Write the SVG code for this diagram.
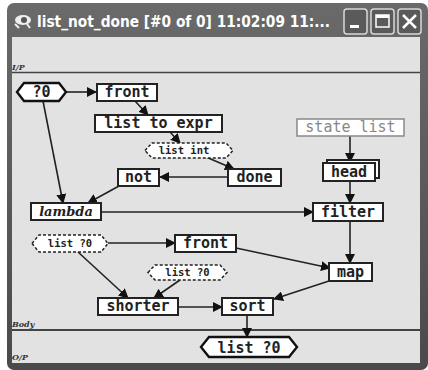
<svg xmlns="http://www.w3.org/2000/svg" width="428" height="370" viewBox="0 0 428 370">
<style>
.box{fill:#fff;stroke:#222;stroke-width:2}
.hex{fill:#fff;stroke:#111;stroke-width:2.4}
.dash{fill:#fff;stroke:#222;stroke-width:1.5;stroke-dasharray:3 2}
.t{font-family:"DejaVu Sans Mono","Liberation Mono",monospace;font-weight:bold;font-size:15px;fill:#222;text-anchor:middle}
.s{font-family:"DejaVu Sans Mono","Liberation Mono",monospace;font-weight:bold;font-size:10.5px;fill:#222;text-anchor:middle}
.lbl{font-family:"DejaVu Serif","Liberation Serif",serif;font-style:italic;font-weight:bold;font-size:8px;fill:#333}
.c{fill:none;stroke:#222;stroke-width:1.6;marker-end:url(#ah)}
.btn{fill:#5a5a5a;stroke:#d8d8d8;stroke-width:1.5}
</style>
<defs>
<marker id="ah" markerWidth="10" markerHeight="10" refX="9" refY="5" orient="auto" markerUnits="userSpaceOnUse">
<path d="M0,0 L10,5 L0,10 z" fill="#111"/>
</marker>
<linearGradient id="tb" x1="0" y1="0" x2="0" y2="1">
<stop offset="0" stop-color="#6a6a6a"/>
<stop offset="1" stop-color="#4a4a4a"/>
</linearGradient>
</defs>
<rect x="0" y="0" width="428" height="370" fill="#fff"/>
<g id="window">
<rect x="7" y="3" width="421" height="367" rx="7" fill="url(#tb)"/>
<rect x="12" y="37" width="408" height="326" fill="#e2e2e2"/>
<g id="icon">
<ellipse cx="23" cy="20" rx="8" ry="5" fill="#eee"/>
<ellipse cx="24" cy="20" rx="3" ry="3" fill="#555"/>
<path d="M15,24 L19,28 M27,24 L30,28" stroke="#eee" stroke-width="2"/>
</g>
<text x="37" y="27" font-family="DejaVu Sans,Liberation Sans,sans-serif" font-weight="bold" font-size="16" fill="#fff" textLength="293" lengthAdjust="spacingAndGlyphs">list_not_done [#0 of 0]  11:02:09 11:...</text>
<rect class="btn" x="344" y="9" width="23" height="25" rx="3"/>
<rect x="350" y="25" width="9" height="3" fill="#fff"/>
<rect class="btn" x="371" y="9" width="23" height="25" rx="3"/>
<rect x="376" y="15" width="13" height="12" fill="none" stroke="#fff" stroke-width="1.5"/>
<rect x="376" y="15" width="13" height="3" fill="#fff"/>
<rect class="btn" x="398" y="9" width="23" height="25" rx="3"/>
<path d="M403,15 L416,28 M416,15 L403,28" stroke="#fff" stroke-width="2.5"/>
<line x1="12" y1="72.5" x2="420" y2="72.5" stroke="#444" stroke-width="1.5"/>
<line x1="12" y1="330" x2="420" y2="330" stroke="#444" stroke-width="2"/>
<text class="lbl" x="12" y="70">I/P</text>
<text class="lbl" x="12" y="327">Body</text>
<text class="lbl" x="12" y="360">O/P</text>
</g>
<g id="connectors">
<line class="c" x1="66" y1="92" x2="96" y2="92"/>
<line class="c" x1="135" y1="101" x2="148" y2="115"/>
<line class="c" x1="170" y1="132" x2="180" y2="143"/>
<line class="c" x1="206" y1="157" x2="234" y2="169"/>
<line class="c" x1="228" y1="177" x2="160" y2="177"/>
<line class="c" x1="119" y1="186" x2="88" y2="203"/>
<line class="c" x1="43" y1="101" x2="63" y2="203"/>
<line class="c" x1="101" y1="212" x2="313" y2="212"/>
<line class="c" x1="350" y1="136" x2="350" y2="162"/>
<line class="c" x1="350" y1="181" x2="350" y2="203"/>
<line class="c" x1="350" y1="221" x2="350" y2="263"/>
<line class="c" x1="108" y1="243" x2="175" y2="243"/>
<line class="c" x1="236" y1="248" x2="330" y2="268"/>
<line class="c" x1="329" y1="281" x2="274" y2="299"/>
<line class="c" x1="78" y1="252" x2="128" y2="298"/>
<line class="c" x1="180" y1="280" x2="154" y2="298"/>
<line class="c" x1="178" y1="307" x2="222" y2="307"/>
<line class="c" x1="247" y1="316" x2="247" y2="337"/>
</g>
<g id="in-q0">
<polygon class="hex" points="17,92 24,83 59,83 66,92 59,101 24,101"/>
<text class="t" x="41.5" y="97">?0</text>
</g>
<g id="front1">
<rect class="box" x="97" y="84" width="60" height="17"/>
<text class="t" x="127" y="97">front</text>
</g>
<g id="list-to-expr">
<rect class="box" x="95" y="115" width="127" height="17"/>
<text class="t" x="158.5" y="128">list to expr</text>
</g>
<g id="list-int">
<polygon class="dash" points="145,150.5 152,143 226,143 233,150.5 226,158 152,158"/>
<text class="s" x="184" y="154">list int</text>
</g>
<g id="not">
<rect class="box" x="118" y="169" width="41" height="17"/>
<text class="t" x="138.5" y="182">not</text>
</g>
<g id="done">
<rect class="box" x="228" y="169" width="53" height="17"/>
<text class="t" x="254.5" y="182">done</text>
</g>
<g id="state-list">
<rect x="297" y="119" width="107" height="17" fill="#fff" stroke="#888" stroke-width="1.5"/>
<text class="t" x="350.5" y="132" style="font-weight:normal;fill:#888">state list</text>
</g>
<g id="head">
<rect class="box" x="327" y="160" width="52" height="18"/>
<rect class="box" x="323" y="163" width="52" height="18"/>
<text class="t" x="349" y="177">head</text>
</g>
<g id="lambda">
<rect class="box" x="31" y="203" width="70" height="17"/>
<text x="66" y="216" font-family="DejaVu Serif,Liberation Serif,serif" font-style="italic" font-weight="bold" font-size="13" fill="#222" text-anchor="middle">lambda</text>
</g>
<g id="filter">
<rect class="box" x="313" y="203" width="70" height="18"/>
<text class="t" x="348" y="217">filter</text>
</g>
<g id="list-q0-a">
<polygon class="dash" points="32,243.5 39,235 101,235 108,243.5 101,252 39,252"/>
<text class="s" x="70" y="247">list ?0</text>
</g>
<g id="front2">
<rect class="box" x="175" y="235" width="61" height="17"/>
<text class="t" x="205.5" y="248">front</text>
</g>
<g id="list-q0-b">
<polygon class="dash" points="148,272.5 155,265 220,265 227,272.5 220,280 155,280"/>
<text class="s" x="187.5" y="276">list ?0</text>
</g>
<g id="map">
<rect class="box" x="329" y="263" width="43" height="18"/>
<text class="t" x="350.5" y="277">map</text>
</g>
<g id="shorter">
<rect class="box" x="98" y="298" width="80" height="17"/>
<text class="t" x="138" y="311">shorter</text>
</g>
<g id="sort">
<rect class="box" x="222" y="298" width="51" height="17"/>
<text class="t" x="247.5" y="311">sort</text>
</g>
<g id="out-list-q0">
<polygon class="hex" points="201,347 209,337 289,337 297,347 289,357 209,357"/>
<text class="t" x="249" y="352.5">list ?0</text>
</g>
</svg>
